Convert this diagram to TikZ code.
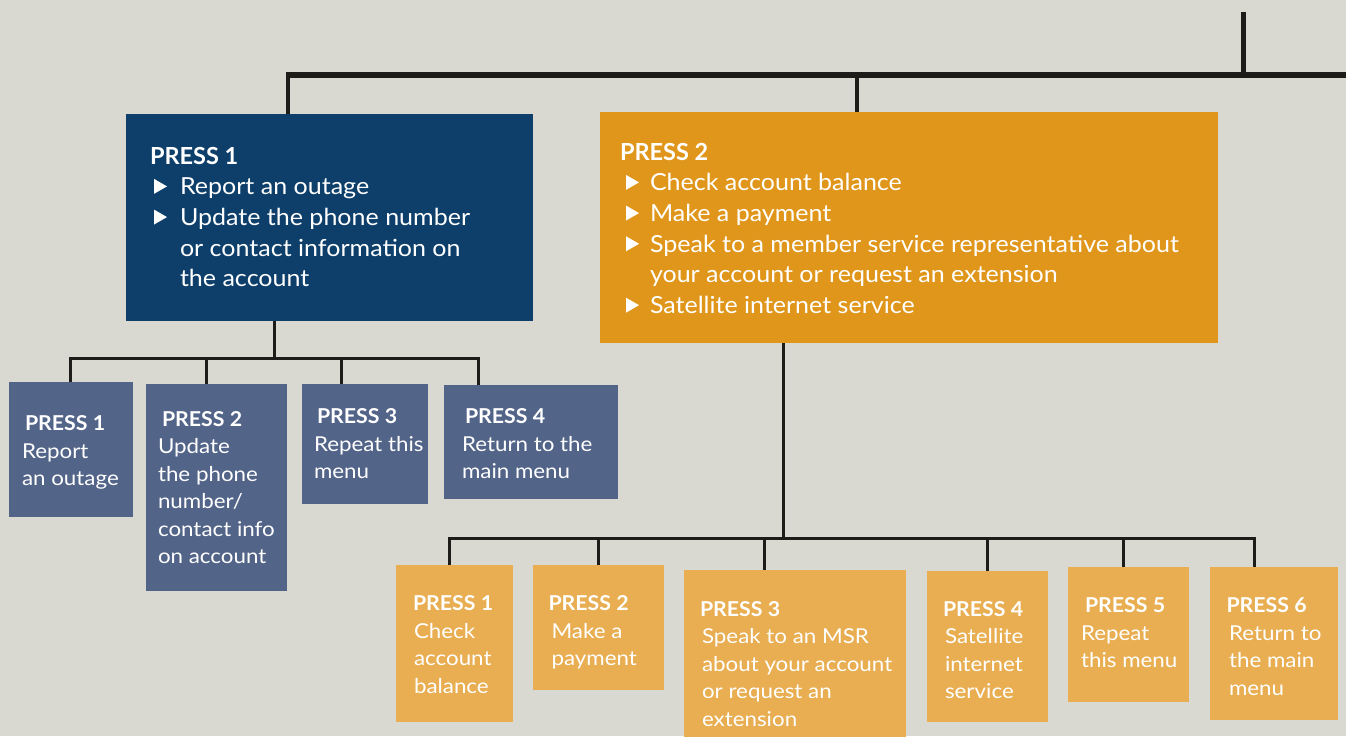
\documentclass[tikz,border=0pt]{standalone}
\usepackage{fontspec}
\setmainfont{Lato}
\newfontfamily\plainLato{Lato}
\newfontfamily\plainLatoW[FakeStretch=1.04]{Lato}
\newfontfamily\wideLato[FakeStretch=1.065]{Lato}
\newfontfamily\widerLato[FakeStretch=1.09]{Lato}
\usetikzlibrary{fit}
\definecolor{bg}{HTML}{DAD9D1}
\definecolor{navy}{HTML}{0D3F6A}
\definecolor{gold}{HTML}{E0961A}
\definecolor{slate}{HTML}{536489}
\definecolor{sand}{HTML}{E8AE51}
\definecolor{ink}{HTML}{1E1C18}
\newcommand\tri{\tikz[baseline={(0pt,-1pt)}]\fill[white] (0pt,0pt)--(0pt,15pt)--(13pt,7.5pt)--cycle;}
\newcommand\press[1]{{\plainLato\bfseries #1}}
\newcommand\spress[1]{{\plainLatoW\bfseries #1}}
\newcommand\bigf{\wideLato\fontsize{23.5}{30.7}\selectfont}
\newcommand\smallf{\widerLato\fontsize{20.5}{27.5}\selectfont}
\tikzset{
  boxnode/.style={inner sep=0pt, outer sep=0pt, draw=none},
  txt/.style={inner sep=0pt, outer sep=0pt, anchor=north west, align=left, text=white},
  bar/.style={draw=ink, line width=6pt},
  stem/.style={draw=ink, line width=5pt},
  drop/.style={draw=ink, line width=3.5pt},
  conn/.style={draw=ink, line width=3pt, line join=miter},
}
\begin{document}
\begin{tikzpicture}[x=1pt,y=-1pt]
\fill[bg] (0,0) rectangle (1346,736);
\clip (0,0) rectangle (1346,736);
\useasboundingbox (0,0) rectangle (1346,736);

% boxes
\node[boxnode, fill=navy, fit={(126,114) (533,321)}] (P1) {};
\node[boxnode, fill=gold, fit={(600,112) (1218,343)}] (P2) {};
\node[boxnode, fill=slate, fit={(9,382) (133,517)}] (a) {};
\node[boxnode, fill=slate, fit={(146,384) (287,591)}] (b) {};
\node[boxnode, fill=slate, fit={(302,384) (428,504)}] (c) {};
\node[boxnode, fill=slate, fit={(444,385) (617.5,499)}] (d) {};
\node[boxnode, fill=sand, fit={(396,565) (513,722)}] (e1) {};
\node[boxnode, fill=sand, fit={(533,565) (664,690)}] (e2) {};
\node[boxnode, fill=sand, fit={(684,570) (906,750)}] (e3) {};
\node[boxnode, fill=sand, fit={(927,571) (1048,722)}] (e4) {};
\node[boxnode, fill=sand, fit={(1068,567) (1189,702)}] (e5) {};
\node[boxnode, fill=sand, fit={(1210,567) (1338,720)}] (e6) {};

% top connectors
\coordinate (topend) at (1243,12);
\coordinate (barL) at (286,75);
\coordinate (barR) at (1346,75);
\coordinate (dA) at (288,75);
\coordinate (dB) at (857,75);
\draw[bar] (barL) -- (barR);
\draw[stem] (topend) -- (topend |- barR);
\draw[drop] (dA) -- (dA |- P1.north);
\draw[drop] (dB) -- (dB |- P2.north);

% children of P1
\coordinate (j1) at (274,358);
\coordinate (ja) at (70,358);
\coordinate (jb) at (206,358);
\coordinate (jc) at (341.5,358);
\coordinate (jd) at (478,358);
\draw[conn] (j1 |- P1.south) -- (j1);
\draw[conn] (ja |- a.north) -- (ja) -- (jd) -- (jd |- d.north);
\draw[conn] (jb) -- (jb |- b.north);
\draw[conn] (jc) -- (jc |- c.north);

% children of P2
\coordinate (j2) at (783,538);
\coordinate (k1) at (449,538);
\coordinate (k2) at (598,538);
\coordinate (k3) at (764,538);
\coordinate (k4) at (987,538);
\coordinate (k5) at (1123.5,538);
\coordinate (k6) at (1254.5,538);
\draw[conn] (j2 |- P2.south) -- (j2);
\draw[conn] (k1 |- e1.north) -- (k1) -- (k6) -- (k6 |- e6.north);
\draw[conn] (k2) -- (k2 |- e2.north);
\draw[conn] (k3) -- (k3 |- e3.north);
\draw[conn] (k4) -- (k4 |- e4.north);
\draw[conn] (k5) -- (k5 |- e5.north);

% texts
\node[txt, font=\bigf] (tP1) at (150,147) {\press{PRESS 1}\\
\hspace*{4pt}\makebox[26pt][l]{\tri}Report an outage\\
\hspace*{4pt}\makebox[26pt][l]{\tri}Update the phone number\\
\hspace*{30pt}or contact information on\\
\hspace*{30pt}the account};
\node[txt, font=\bigf] (tP2) at (620,143) {\press{PRESS 2}\\
\hspace*{6pt}\makebox[24pt][l]{\tri}Check account balance\\
\hspace*{6pt}\makebox[24pt][l]{\tri}Make a payment\\
\hspace*{6pt}\makebox[24pt][l]{\tri}Speak to a member service representative about\\
\hspace*{30pt}your account or request an extension\\
\hspace*{6pt}\makebox[24pt][l]{\tri}Satellite internet service};

\node[txt, font=\smallf] (ta) at (22,416) {\hspace*{3pt}\spress{PRESS 1}\\Report\\an outage};
\node[txt, font=\smallf] (tb) at (158,411.5) {\hspace*{4pt}\spress{PRESS 2}\\Update\\the phone\\number/\\contact info\\on account};
\node[txt, font=\smallf] (tc) at (314,409) {\hspace*{3pt}\spress{PRESS 3}\\Repeat this\\menu};
\node[txt, font=\smallf] (td) at (462,409) {\hspace*{3pt}\spress{PRESS 4}\\Return to the\\main menu};

\node[txt, font=\smallf] (te1) at (413,596) {\spress{PRESS 1}\\\hspace*{1pt}Check\\\hspace*{1pt}account\\\hspace*{1pt}balance};
\node[txt, font=\smallf] (te2) at (548.5,596) {\spress{PRESS 2}\\\hspace*{3pt}Make a\\\hspace*{3pt}payment};
\node[txt, font=\smallf] (te3) at (700,601.5) {\spress{PRESS 3}\\\hspace*{2pt}Speak to an MSR\\\hspace*{2pt}about your account\\\hspace*{2pt}or request an\\\hspace*{2pt}extension};
\node[txt, font=\smallf] (te4) at (943,601.5) {\spress{PRESS 4}\\\hspace*{2pt}Satellite\\\hspace*{2pt}internet\\\hspace*{2pt}service};
\node[txt, font=\smallf] (te5) at (1081,598) {\hspace*{4pt}\spress{PRESS 5}\\Repeat\\this menu};
\node[txt, font=\smallf] (te6) at (1226.5,598) {\spress{PRESS 6}\\\hspace*{2.5pt}Return to\\\hspace*{2.5pt}the main\\\hspace*{2.5pt}menu};
\end{tikzpicture}
\end{document}
